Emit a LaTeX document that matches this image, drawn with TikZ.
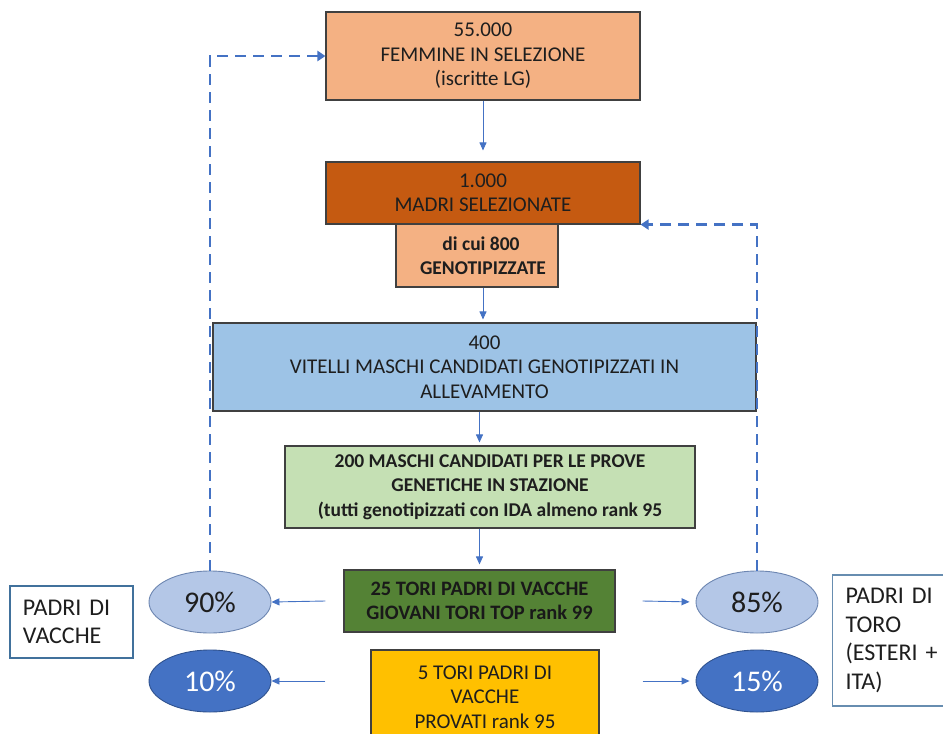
\documentclass[tikz,border=0pt]{standalone}
\usepackage{fontspec}
\setmainfont{Carlito}
\usetikzlibrary{arrows.meta,shapes.geometric}
\definecolor{peach}{HTML}{F4B183}
\definecolor{rust}{HTML}{C55A11}
\definecolor{skyb}{HTML}{9DC3E6}
\definecolor{mint}{HTML}{C5E0B4}
\definecolor{forest}{HTML}{548235}
\definecolor{gold}{HTML}{FFC000}
\definecolor{pale}{HTML}{B4C7E7}
\definecolor{royal}{HTML}{4472C4}
\definecolor{royaldk}{HTML}{2F528F}
\definecolor{steel}{HTML}{41719C}
\definecolor{ink}{HTML}{1E1E1E}
\definecolor{edge}{HTML}{404040}
\begin{document}
\begin{tikzpicture}[x=1pt,y=-1pt,
  box/.style={draw=edge,line width=1.1pt,rectangle,inner sep=0pt,align=center,text=ink,
    font=\fontsize{21}{24.5}\selectfont},
  boldbox/.style={box,font=\fontsize{19.5}{24.5}\selectfont\bfseries},
  oval/.style={ellipse,inner sep=0pt,minimum width=122pt,minimum height=62pt,line width=0.9pt,
    font=\fontsize{30}{30}\selectfont},
  ovallight/.style={oval,fill=pale,draw=royaldk!70,text=ink},
  ovaldark/.style={oval,fill=royal,draw=royaldk,text=white},
  labelbox/.style={draw=steel,line width=1.1pt,fill=white,rectangle,inner ysep=0pt,inner xsep=13pt,
    align=left,text=ink,font=\fontsize{24}{28.5}\selectfont},
  flow/.style={draw=royal,line width=0.9pt,-{Triangle[width=7pt,length=8pt]}},
  loopback/.style={draw=royal,line width=2.8pt,dash pattern=on 11pt off 7pt,
    -{Triangle[width=10pt,length=8pt]}}
]
\clip (0,0) rectangle (943,734);
\fill[white] (0,0) rectangle (943,734);

\node[box,fill=peach,minimum width=314pt,minimum height=88pt] (b1) at (483,56)
  {55.000\\FEMMINE IN SELEZIONE\\(iscritte LG)};
\node[boldbox,fill=peach,minimum width=162pt,minimum height=63pt] (b3) at (477,255.5)
  {\hspace*{8pt}di cui 800\\\hspace*{12pt}GENOTIPIZZATE};
\node[box,fill=rust,minimum width=314pt,minimum height=62pt] (b2) at (483,193)
  {1.000\\MADRI SELEZIONATE};
\node[box,fill=skyb,minimum width=543pt,minimum height=88pt] (b4) at (484.5,367)
  {400\\VITELLI MASCHI CANDIDATI GENOTIPIZZATI IN\\ALLEVAMENTO};
\node[boldbox,fill=mint,minimum width=410pt,minimum height=82pt] (b5) at (490,487)
  {200 MASCHI CANDIDATI PER LE PROVE\\GENETICHE IN STAZIONE\\(tutti genotipizzati con IDA almeno rank 95};
\node[boldbox,fill=forest,minimum width=271pt,minimum height=62pt,text=black!90,
  font=\fontsize{20.5}{24.5}\selectfont\bfseries] (b6) at (479.5,601)
  {25 TORI PADRI DI VACCHE\\GIOVANI TORI TOP rank 99};
\node[box,fill=gold,minimum width=228pt,minimum height=94pt] (b7) at (485,697)
  {5 TORI PADRI DI\\VACCHE\\PROVATI rank 95};

\node[ovallight] (e90) at (210,602) {90\%};
\node[ovaldark] (e10) at (210,681) {10\%};
\node[ovallight] (e85) at (757,602) {85\%};
\node[ovaldark] (e15) at (757,681) {15\%};

\node[labelbox,text width=97pt,minimum height=72pt] (lb) at (71.5,622) {PADRI DI\\VACCHE};
\node[labelbox,draw=steel!80!white,text width=110pt,minimum height=131pt,anchor=west] (rb) at (832,640.5)
  {PADRI DI\\TORO\\(ESTERI +\\ITA)};

% vertical flow
\draw[flow,shorten >=11pt] (b1.south) -- (b2.north);
\draw[flow,shorten >=3pt] (b3.south -| b2.south) -- (b4.north -| b2.south);
\draw[flow,shorten >=3pt] (b4.south -| b6.north) -- (b5.north -| b6.north);
\draw[flow,shorten >=5pt] (b5.south -| b6.north) -- (b6.north);

% side arrows
\coordinate (l6) at ([xshift=-18pt]b6.west);
\coordinate (l7) at (l6 |- e10.east);
\coordinate (r6) at ([xshift=27pt]b6.east);
\coordinate (r7) at (r6 |- e15.west);
\draw[flow] (l6) -- (e90.east);
\draw[flow] (l7) -- (e10.east);
\draw[flow,shorten >=6pt] (r6) -- (e85.west);
\draw[flow,shorten >=6pt] (r7) -- (e15.west);

% dashed feedback loops
\draw[loopback] (e90.north) |- (b1.west);
\draw[loopback] (e85.north) |- (b2.south east);
\end{tikzpicture}
\end{document}
